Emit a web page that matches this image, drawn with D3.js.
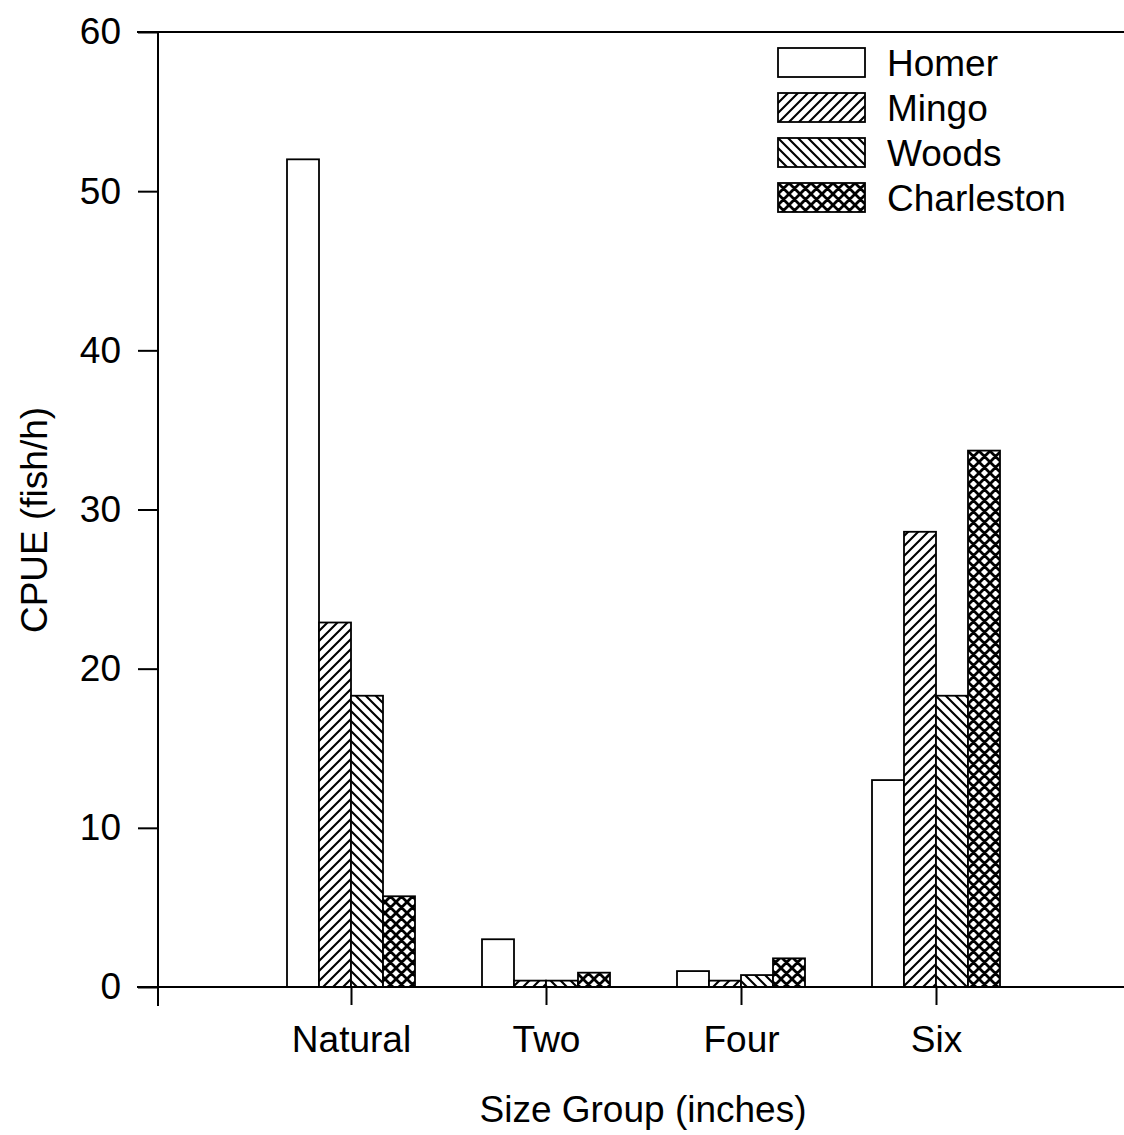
<!DOCTYPE html>
<html>
<head>
<meta charset="utf-8">
<script src="https://cdn.jsdelivr.net/npm/d3@7"></script>
<style>
  body { margin: 0; background: #fff; }
  svg { display: block; font-family: Arial, "Liberation Sans", sans-serif; }
</style>
</head>
<body>
<svg id="chart" width="1124" height="1135"></svg>
<script>
// Size groups and CPUE per lake
const categories = ['Natural', 'Two', 'Four', 'Six'];
const lakes = ['Homer', 'Mingo', 'Woods', 'Charleston'];
const homer = [52.0, 3.0, 1.0, 13.0];
const mingo = [22.9, 0.4, 0.4, 28.6];
const woods = [18.3, 0.4, 0.75, 18.3];
const charleston = [5.7, 0.9, 1.8, 33.7];
const yTicks = [0, 10, 20, 30, 40, 50, 60];

const seriesValues = [homer, mingo, woods, charleston];
const fills = ['#fff', 'url(#hatchFwd)', 'url(#hatchBack)', 'url(#hatchCross)'];
const FONT = 'Arial, "Liberation Sans", sans-serif';
const FS = 37;

const svg = d3.select('#chart');
const defs = svg.append('defs');

// hatch patterns
function diagPattern(id, back) {
  const p = defs.append('pattern').attr('id', id)
    .attr('patternUnits', 'userSpaceOnUse').attr('width', 10).attr('height', 10);
  p.append('rect').attr('width', 10).attr('height', 10).attr('fill', '#fff');
  const d = back ? 'M-2,-2 L12,12 M-12,-2 L2,12 M8,-2 L22,12'
                 : 'M-2,12 L12,-2 M-12,12 L2,-2 M8,12 L22,-2';
  p.append('path').attr('d', d).attr('stroke', '#000').attr('stroke-width', 2.1);
}
diagPattern('hatchFwd', false);
diagPattern('hatchBack', true);
const cp = defs.append('pattern').attr('id', 'hatchCross')
  .attr('patternUnits', 'userSpaceOnUse').attr('width', 11).attr('height', 11);
cp.append('rect').attr('width', 11).attr('height', 11).attr('fill', '#fff');
cp.append('path')
  .attr('d', 'M-1,-1 L12,12 M-12,-1 L1,12 M10,-1 L23,12 M-1,12 L12,-1 M-12,12 L1,-1 M10,12 L23,-1')
  .attr('stroke', '#000').attr('stroke-width', 2.8);

// scales: categories sit at 1..4 on a 0..5 axis
const x = d3.scaleLinear().domain([0, 5]).range([156, 1131]);
const y = d3.scaleLinear().domain([0, 60]).range([987, 32]);
const barW = 32;

const g = svg.append('g');

// bars
categories.forEach((cat, ci) => {
  const cx = x(ci + 1);
  lakes.forEach((lake, li) => {
    const v = seriesValues[li][ci];
    g.append('rect')
      .attr('x', cx - 2 * barW + li * barW)
      .attr('y', y(v))
      .attr('width', barW)
      .attr('height', y(0) - y(v))
      .attr('fill', fills[li])
      .attr('stroke', '#000')
      .attr('stroke-width', 1.8);
  });
});

// y axis
const yAxis = g.append('g').attr('transform', `translate(${x(0) + 2},0)`)
  .call(d3.axisLeft(y).tickValues(yTicks).tickSize(20).tickPadding(17));
yAxis.select('.domain').remove();
yAxis.append('line').attr('x1', 0).attr('x2', 0).attr('y1', 32).attr('y2', 1006)
  .attr('stroke', '#000').attr('stroke-width', 2);
yAxis.selectAll('.tick line').attr('stroke-width', 2);
yAxis.selectAll('.tick text').attr('font-size', FS).attr('fill', '#000')
  .attr('font-family', FONT);

// x axis
const xAxis = g.append('g').attr('transform', `translate(0,${y(0)})`)
  .call(d3.axisBottom(x).tickValues([1, 2, 3, 4]).tickSize(18).tickPadding(21)
    .tickFormat(d => categories[d - 1]));
xAxis.select('.domain').remove();
xAxis.append('line').attr('x1', 137).attr('x2', 1124).attr('y1', 0).attr('y2', 0)
  .attr('stroke', '#000').attr('stroke-width', 2);
xAxis.selectAll('.tick line').attr('stroke-width', 2);
xAxis.selectAll('.tick text').attr('font-size', FS).attr('fill', '#000')
  .attr('font-family', FONT);

// top frame line
g.append('line').attr('x1', 137).attr('x2', 1124).attr('y1', y(60)).attr('y2', y(60))
  .attr('stroke', '#000').attr('stroke-width', 2);

// axis titles
svg.append('text').attr('x', 643).attr('y', 1122).attr('text-anchor', 'middle')
  .attr('font-size', FS).text('Size Group (inches)');
svg.append('text').attr('transform', 'translate(47,520) rotate(-90)')
  .attr('text-anchor', 'middle').attr('font-size', FS).text('CPUE (fish/h)');

// legend
const legend = svg.append('g').attr('transform', 'translate(778,48)');
lakes.forEach((lake, i) => {
  const row = legend.append('g').attr('transform', `translate(0,${i * 45})`);
  row.append('rect').attr('width', 87).attr('height', 29)
    .attr('fill', fills[i]).attr('stroke', '#000').attr('stroke-width', 1.8);
  row.append('text').attr('x', 109).attr('y', 28).attr('font-size', FS).text(lake);
});
</script>
</body>
</html>
